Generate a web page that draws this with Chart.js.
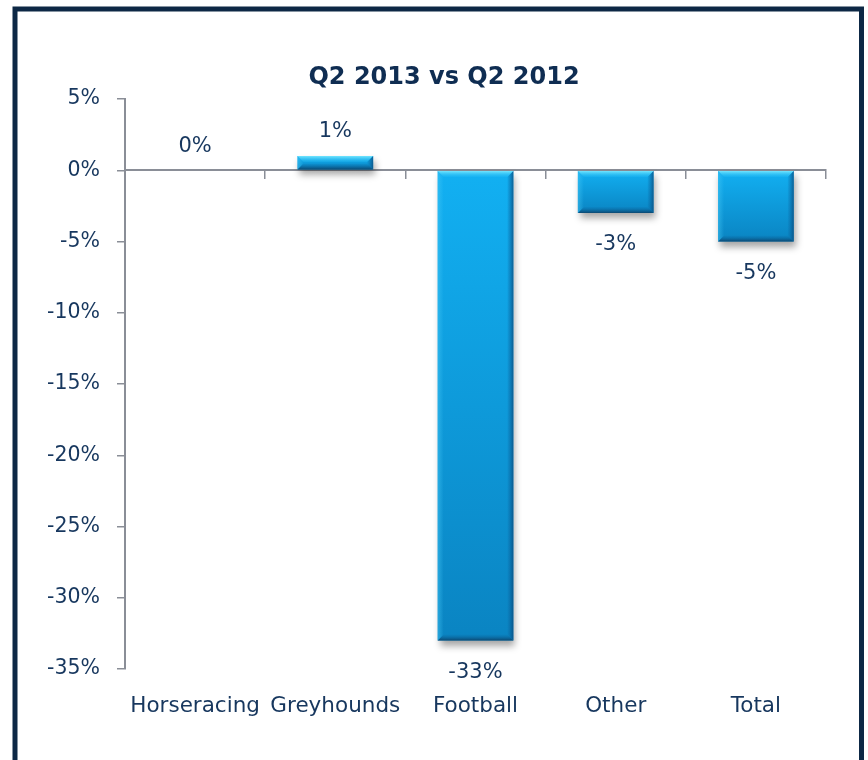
<!DOCTYPE html>
<html>
<head>
<meta charset="utf-8">
<title>Q2 2013 vs Q2 2012</title>
<script src="https://cdn.jsdelivr.net/npm/chart.js@4.4.0/dist/chart.umd.min.js"></script>
<style>
  html, body { margin: 0; padding: 0; background: #fff; }
  canvas { display: block; }
</style>
</head>
<body>
<canvas id="qChart" width="868" height="760"></canvas>
<script>
// year-on-year change by product
const categories = ["Horseracing", "Greyhounds", "Football", "Other", "Total"];
const changePct = [0, 1, -33, -3, -5];
const yTicks = [5, 0, -5, -10, -15, -20, -25, -30, -35];
const chartTitle = "Q2 2013 vs Q2 2012";

const textColor = "#17375e";
const axisColor = "#8a8e97";
const font = "'DejaVu Sans', sans-serif";

// white page, dark navy frame and the heading
const framePlugin = {
  id: "frame",
  beforeDraw(chart) {
    const c = chart.ctx;
    c.save();
    c.fillStyle = "#fff";
    c.fillRect(0, 0, chart.width, chart.height);
    c.strokeStyle = "#0d2845";
    c.lineWidth = 5;
    c.strokeRect(15, 9, 846.5, 800);
    c.fillStyle = "#0f2d52";
    c.font = "bold 24px " + font;
    c.textAlign = "center";
    c.textBaseline = "middle";
    c.fillText(chartTitle, 444, 78);
    c.restore();
  }
};

// drop shadow, bevelled edges and value labels on the bars
const barPlugin = {
  id: "barStyle",
  beforeDatasetsDraw(chart) {
    const c = chart.ctx;
    c.save();
    c.shadowColor = "rgba(0,0,0,0.35)";
    c.shadowBlur = 7;
    c.shadowOffsetX = 2;
    c.shadowOffsetY = 5;
  },
  afterDatasetsDraw(chart) {
    const c = chart.ctx;
    c.restore();
    const meta = chart.getDatasetMeta(0);
    meta.data.forEach((el, i) => {
      const x0 = el.x - el.width / 2, x1 = el.x + el.width / 2;
      const top = Math.min(el.y, el.base), bot = Math.max(el.y, el.base);
      const h = bot - top;
      if (h >= 2) {
        const b = Math.min(6, h / 2);
        const quad = (pts, grad) => {
          c.beginPath();
          c.moveTo(pts[0][0], pts[0][1]);
          for (let k = 1; k < pts.length; k++) c.lineTo(pts[k][0], pts[k][1]);
          c.closePath();
          c.fillStyle = grad;
          c.fill();
        };
        let g = c.createLinearGradient(0, top, 0, top + b);
        g.addColorStop(0, "rgba(120,232,255,0.95)");
        g.addColorStop(1, "rgba(40,190,245,0.25)");
        quad([[x0, top], [x1, top], [x1 - b, top + b], [x0 + b, top + b]], g);
        g = c.createLinearGradient(0, bot - b, 0, bot);
        g.addColorStop(0, "rgba(10,110,170,0.15)");
        g.addColorStop(1, "rgba(12,68,108,0.95)");
        quad([[x0, bot], [x1, bot], [x1 - b, bot - b], [x0 + b, bot - b]], g);
        g = c.createLinearGradient(x1 - b, 0, x1, 0);
        g.addColorStop(0, "rgba(10,100,160,0.1)");
        g.addColorStop(1, "rgba(10,75,125,0.8)");
        quad([[x1, top], [x1, bot], [x1 - b, bot - b], [x1 - b, top + b]], g);
        g = c.createLinearGradient(x0, 0, x0 + b, 0);
        g.addColorStop(0, "rgba(70,200,245,0.5)");
        g.addColorStop(1, "rgba(70,200,245,0)");
        quad([[x0, top], [x0, bot], [x0 + b, bot - b], [x0 + b, top + b]], g);
      }
      const v = changePct[i];
      c.save();
      c.fillStyle = textColor;
      c.font = "21px " + font;
      c.textAlign = "center";
      c.textBaseline = "middle";
      c.fillText(v + "%", el.x, v >= 0 ? el.y - 24 : el.y + 32);
      c.restore();
    });
  }
};

new Chart(document.getElementById("qChart"), {
  type: "bar",
  data: {
    labels: categories,
    datasets: [{
      data: changePct,
      xAxisID: "x",
      yAxisID: "y",
      barPercentage: 0.54,
      categoryPercentage: 1,
      borderWidth: 0,
      backgroundColor: (ctx) => {
        const chart = ctx.chart;
        if (!chart.chartArea || ctx.raw === undefined) return "#0e9ad8";
        const y = chart.scales.y;
        const a = y.getPixelForValue(ctx.raw), b = y.getPixelForValue(0);
        const g = chart.ctx.createLinearGradient(0, Math.min(a, b), 0, Math.max(a, b) + 0.01);
        g.addColorStop(0, "#12b0f2");
        g.addColorStop(1, "#0a84c2");
        return g;
      }
    }]
  },
  options: {
    responsive: false,
    animation: false,
    layout: { padding: { left: 0, right: 42, top: 99, bottom: 43 } },
    plugins: {
      legend: { display: false },
      tooltip: { enabled: false }
    },
    scales: {
      // zero line with the category tick marks
      x: {
        type: "category",
        position: { y: 0 },
        offset: true,
        z: 1,
        grid: { offset: true, drawOnChartArea: false, drawTicks: true, tickLength: 8, color: axisColor, lineWidth: 1.5 },
        border: { display: true, color: axisColor, width: 2 },
        ticks: { display: false }
      },
      // category names along the bottom
      x2: {
        type: "category",
        position: "bottom",
        labels: categories,
        offset: true,
        afterFit: (s) => { s.height = 48; },
        grid: { display: false },
        border: { display: false },
        ticks: { color: textColor, font: { family: font, size: 21.5 }, padding: 17, maxRotation: 0, autoSkip: false }
      },
      y: {
        min: -35,
        max: 5,
        afterBuildTicks: (s) => { s.ticks = yTicks.map((v) => ({ value: v })); },
        afterFit: (s) => { s.width = 125; },
        grid: { drawOnChartArea: false, drawTicks: true, tickLength: 8, color: axisColor, lineWidth: 1.5 },
        border: { display: true, color: axisColor, width: 2 },
        ticks: {
          color: textColor,
          font: { family: font, size: 20.5 },
          padding: 17,
          callback: (v) => v + "%"
        }
      }
    }
  },
  plugins: [framePlugin, barPlugin]
});
</script>
</body>
</html>
